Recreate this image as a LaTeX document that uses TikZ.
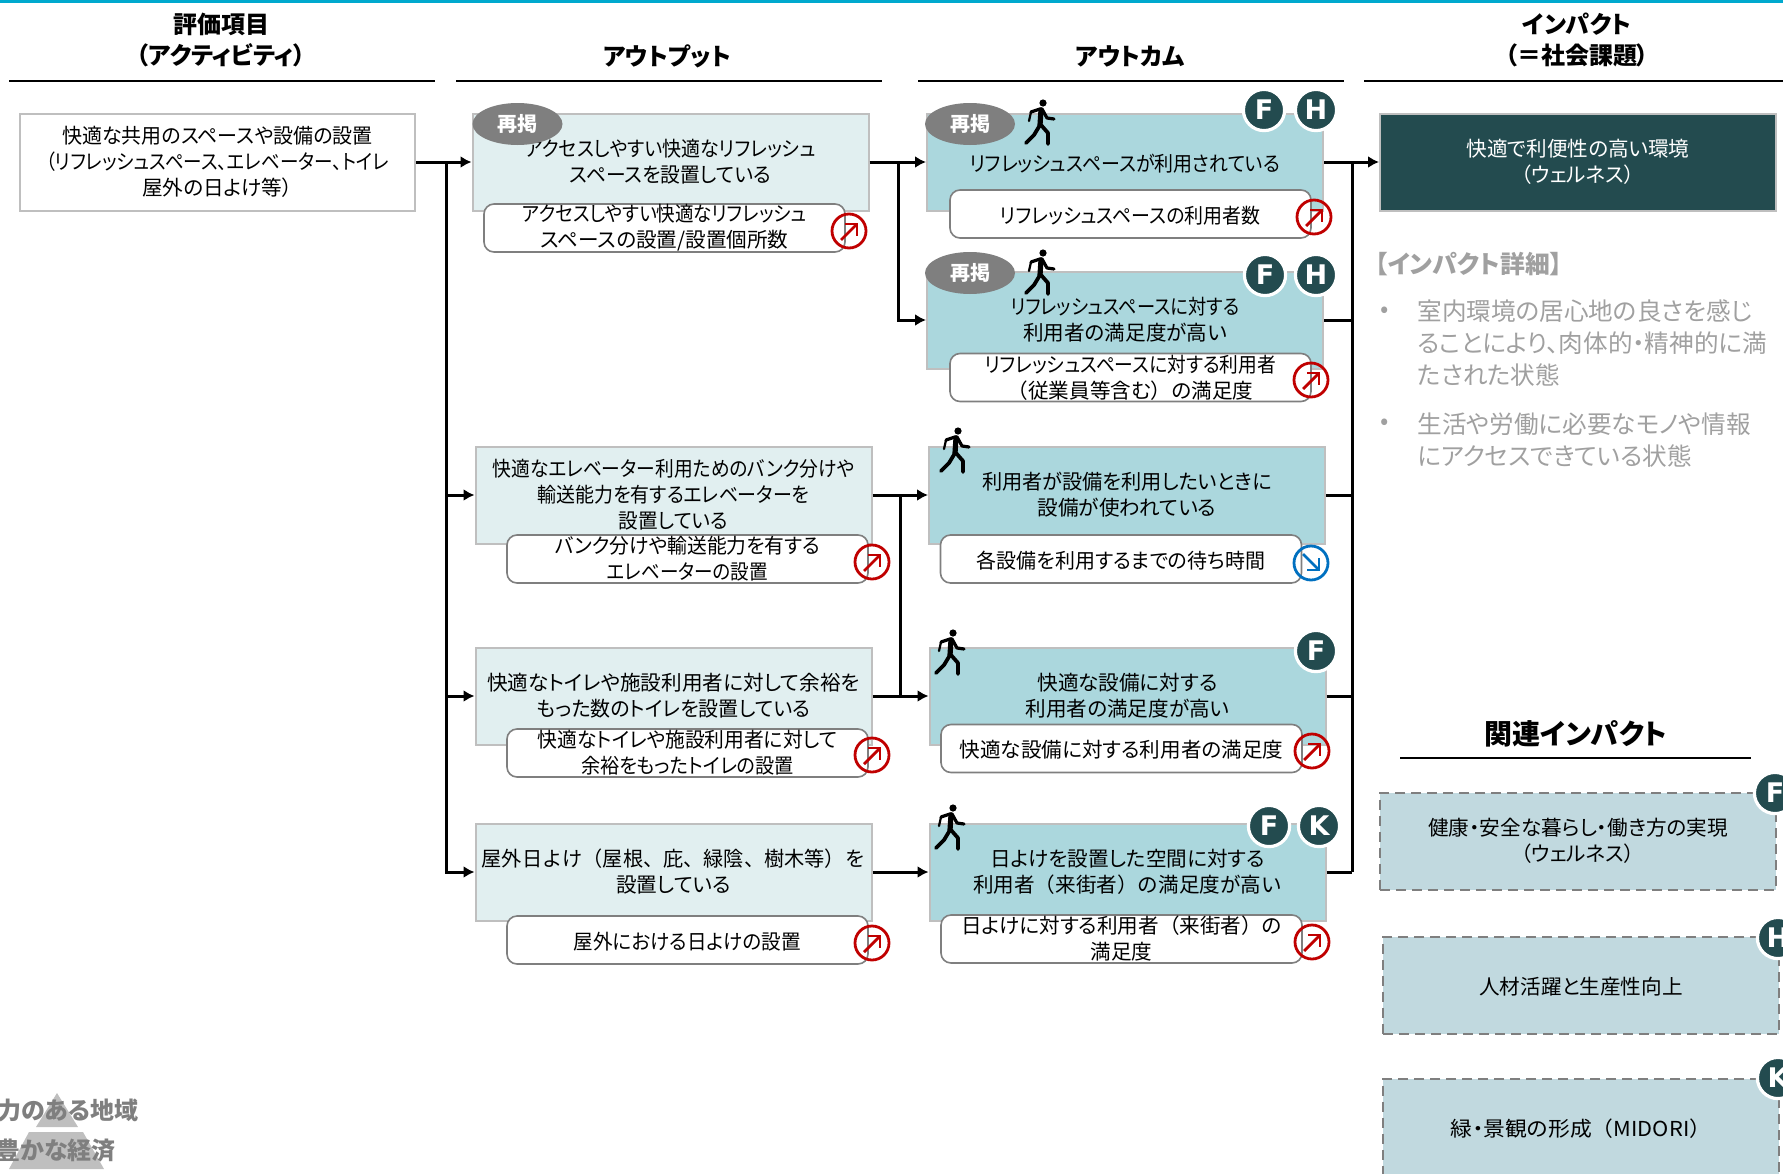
\documentclass[tikz,border=0pt]{standalone}
\usepackage{fontspec}
\setmainfont{Noto Sans CJK JP}[RawFeature=+palt]
\newfontfamily\jpwide{Noto Sans CJK JP}
\newfontfamily\badgefont{DejaVu Sans}
\usetikzlibrary{arrows.meta,shapes,positioning,calc}

\definecolor{topbar}{HTML}{00A9CE}
\definecolor{boxedge}{HTML}{BFBFBF}
\definecolor{outputfill}{HTML}{E1EFF0}
\definecolor{outcomefill}{HTML}{ABD7DD}
\definecolor{impactfill}{HTML}{234B4F}
\definecolor{relatedfill}{HTML}{C1D9DF}
\definecolor{subedge}{HTML}{7F7F7F}
\definecolor{detailgray}{HTML}{A0A0A0}
\definecolor{trendred}{HTML}{C00000}
\definecolor{trendblue}{HTML}{0070C0}

% narrower lines and wide brackets
\newcommand{\nx}[2]{\scalebox{#1}[1]{#2}}
\newcommand{\lp}{{\jpwide （}}
\newcommand{\rp}{{\jpwide ）}}

\tikzset{
	head/.style={font=\fontsize{12}{15.5}\selectfont\bfseries, align=center},
	headline/.style={line width=1pt},
	txt/.style={font=\fontsize{10.3}{13}\selectfont, align=center, inner sep=0},
	single/.style={execute at begin node={\rule{0pt}{10pt}}},
	mainbox/.style={txt, draw=boxedge, line width=1pt, minimum width=198pt, minimum height=48.5pt},
	activitybox/.style={mainbox, fill=white, minimum width=197.5pt},
	outputbox/.style={mainbox, fill=outputfill},
	outcomebox/.style={mainbox, fill=outcomefill},
	impactbox/.style={mainbox, fill=impactfill, text=white},
	subbox/.style={txt, draw=subedge, fill=white, line width=0.8pt, rounded corners=5pt, minimum width=180.5pt, minimum height=24pt},
	relatedbox/.style={mainbox, fill=relatedfill, draw=subedge, dashed, dash pattern=on 5pt off 3pt},
	again/.style={ellipse, fill=subedge, text=white, inner sep=0, minimum width=45pt, minimum height=21pt, font=\fontsize{10}{12}\selectfont\bfseries},
	badge/.style={circle, fill=impactfill, draw=white, line width=1.6pt, text=white, inner sep=0, minimum size=20.6pt, font=\fontsize{13.5}{14}\badgefont\bfseries},
	conn/.style={line width=1.5pt},
	arr/.style={conn, -{Latex[length=5.5pt,width=6pt]}},
	detail/.style={font=\fontsize{12.3}{16}\selectfont, text=detailgray, align=left, inner sep=0},
	trendup/.pic={
		\draw[trendred, line width=1.4pt] (0,0) circle (17);
		\draw[trendred, line width=1.4pt] (-8,9) -- (7,-6);
		\draw[trendred, line width=1.4pt] (-4,-7) -- (8,-7) -- (8,5);
	},
	trenddown/.pic={
		\draw[trendblue, line width=1.4pt] (0,0) circle (17);
		\draw[trendblue, line width=1.4pt] (-8,-9) -- (7,6);
		\draw[trendblue, line width=1.4pt] (-4,7) -- (8,7) -- (8,-5);
	},
	walker/.pic={
		\fill (3,-19) circle (3.6);
		\draw[line width=1.6pt, line cap=round, line join=round] (-9,-10) -- (0,-13) -- (2,-13) -- (7,-4) -- (14,-3);
		\draw[line width=2.6pt, line cap=round] (1,-12) -- (0,3);
		\draw[line width=1.1pt, line cap=round, line join=round] (-9,-10) -- (-11,-1);
		\draw[line width=1.9pt, line cap=round, line join=round] (0,3) -- (-6,13) -- (-14,21);
		\draw[line width=1.9pt, line cap=round, line join=round] (1,3) -- (8,11) -- (8,22);
	},
}

\begin{document}
\begin{tikzpicture}[x=0.5pt, y=-0.5pt]
	\path[use as bounding box, clip] (0,0) rectangle (1783,1173);
	\fill[topbar] (0,0) rectangle (1783,3);

	% headers
	\node[head] (hA) at (221,40) {評価項目\\（アクティビティ）};
	\node[head] (hO) at (667,56) {アウトプット};
	\node[head] (hC) at (1130,56) {アウトカム};
	\node[head] (hI) at (1577,40) {インパクト\\（＝社会課題）};
	\coordinate (l1a) at (9,81);
	\coordinate (l1b) at (435,81);
	\coordinate (l2a) at (456,81);
	\coordinate (l2b) at (882,81);
	\coordinate (l3a) at (918,81);
	\coordinate (l3b) at (1344,81);
	\coordinate (l4a) at (1364,81);
	\coordinate (l4b) at (1783,81);
	\draw[headline] (l1a) -- (l1b);
	\draw[headline] (l2a) -- (l2b);
	\draw[headline] (l3a) -- (l3b);
	\draw[headline] (l4a) -- (l4b);

	% activity
	\node[activitybox] (A) at (217.5,162) {\nx{0.97}{快適な共用のスペースや設備の設置}\\\nx{0.9}{（リフレッシュスペース、エレベーター、トイレ}\\屋外の日よけ等）};

	% outputs
	\node[outputbox] (O1) at (670.5,162) {\nx{0.92}{アクセスしやすい快適なリフレッシュ}\\\nx{0.96}{スペースを設置している}};
	\node[subbox] (O1s) at (664.5,228) {\nx{0.9}{アクセスしやすい快適なリフレッシュ}\\スペースの設置/設置個所数};
	\node[outputbox] (O2) at (673.5,495) {\nx{0.91}{快適なエレベーター利用ためのバンク分けや}\\\nx{0.92}{輸送能力を有するエレベーターを}\\\nx{0.95}{設置している}};
	\node[subbox] (O2s) at (687.5,559) {\nx{0.96}{バンク分けや輸送能力を有する}\\\nx{0.9}{エレベーターの設置}};
	\node[outputbox] (O3) at (673.5,696) {快適なトイレや施設利用者に対して余裕を\\\nx{0.97}{もった数のトイレを設置している}};
	\node[subbox] (O3s) at (687.5,753) {\nx{0.96}{快適なトイレや施設利用者に対して}\\\nx{0.93}{余裕をもったトイレの設置}};
	\node[outputbox] (O4) at (673.5,872) {\nx{0.98}{\jpwide 屋外日よけ（屋根、庇、緑陰、樹木等）を}\\設置している};
	\node[subbox, single] (O4s) at (687.5,940) {\nx{0.95}{屋外における日よけの設置}};

	% outcomes
	\node[outcomebox, single] (C1) at (1125,162) {\nx{0.92}{リフレッシュスペースが利用されている}};
	\node[subbox, single] (C1s) at (1130.5,214) {\nx{0.92}{リフレッシュスペースの利用者数}};
	\node[outcomebox] (C2) at (1125,320) {\nx{0.885}{リフレッシュスペースに対する}\\利用者の満足度が高い};
	\node[subbox] (C2s) at (1130.5,377.5) {\nx{0.91}{リフレッシュスペースに対する利用者}\\\lp 従業員等含む\rp の満足度};
	\node[outcomebox] (C3) at (1127,495) {\nx{0.98}{利用者が設備を利用したいときに}\\設備が使われている};
	\node[subbox, single] (C3s) at (1121,559) {\nx{0.97}{各設備を利用するまでの待ち時間}};
	\node[outcomebox] (C4) at (1127.5,696) {快適な設備に対する\\利用者の満足度が高い};
	\node[subbox, single] (C4s) at (1121.5,748.5) {快適な設備に対する利用者の満足度};
	\node[outcomebox] (C5) at (1127.5,872) {日よけを設置した空間に対する\\{\jpwide 利用者（来街者）の満足度が高い}};
	\node[subbox] (C5s) at (1121.5,939) {日よけに対する利用者\lp 来街者\rp の\\満足度};

	% impact
	\node[impactbox] (I) at (1578,162) {快適で利便性の高い環境\\（ウェルネス）};
	\node[detail, anchor=west, font=\fontsize{12.4}{16}\selectfont\bfseries] (dT) at (1375,264) {【インパクト詳細】};
	\node[detail] (b1) at (1385,312) {•};
	\node[detail, anchor=west] (d1) at (1417,343) {室内環境の居心地の良さを感じ\\ることにより、肉体的・精神的に満\\たされた状態};
	\node[detail] (b2) at (1385,424) {•};
	\node[detail, anchor=west] (d2) at (1417,440) {生活や労働に必要なモノや情報\\にアクセスできている状態};

	% related impact
	\node[head, font=\fontsize{14}{16}\selectfont\bfseries] (hR) at (1576,734) {関連インパクト};
	\coordinate (l5a) at (1400,758);
	\coordinate (l5b) at (1751,758);
	\draw[headline] (l5a) -- (l5b);
	\node[relatedbox] (R1) at (1578,841) {健康・安全な暮らし・働き方の実現\\（ウェルネス）};
	\node[relatedbox, single] (R2) at (1581,985) {人材活躍と生産性向上};
	\node[relatedbox, single] (R3) at (1581,1127) {\nx{1.06}{緑・景観の形成\lp MIDORI\rp}};
	\node[badge] (bR1) at (1775,793) {F};
	\node[badge] (bR2) at (1778,938) {H};
	\node[badge] (bR3) at (1778,1078) {K};

	% tags on the boxes
	\node[again] (t1) at (517.5,124) {再掲};
	\node[again] (t2) at (970,124) {再掲};
	\node[again] (t3) at (970,273) {再掲};
	\pic at (1040,122) {walker};
	\pic at (1040,272) {walker};
	\pic at (955,450) {walker};
	\pic at (950,652) {walker};
	\pic at (950,827) {walker};
	\node[badge] (f1) at (1264,110) {F};
	\node[badge] (h1) at (1316,110) {H};
	\node[badge] (f2) at (1265,275) {F};
	\node[badge] (h2) at (1316,275) {H};
	\node[badge] (f3) at (1316,651) {F};
	\node[badge] (f4) at (1269,826) {F};
	\node[badge] (k4) at (1319,826) {K};
	\pic at (849,231) {trendup};
	\pic at (872,562) {trendup};
	\pic at (872,755) {trendup};
	\pic at (872,943) {trendup};
	\pic at (1314,217) {trendup};
	\pic at (1311,380) {trendup};
	\pic at (1311,563) {trenddown};
	\pic at (1312,751) {trendup};
	\pic at (1312,942) {trendup};

	% connectors
	\coordinate (jA) at (446,162);
	\coordinate (jB) at (898,162);
	\coordinate (jC) at (900,495);
	\coordinate (jD) at (1352,162);
	\coordinate (jE) at (1352,872);
	\draw[arr] (A) -- (O1);
	\draw[arr] (jA) |- (O2);
	\draw[arr] (jA) |- (O3);
	\draw[arr] (jA) |- (O4);
	\draw[arr] (O1) -- (C1);
	\draw[arr] (jB) |- (C2);
	\draw[arr] (O2) -- (C3);
	\draw[arr] (O3) -- (C4);
	\draw[conn] (jC) -- (jC |- C4);
	\draw[arr] (O4) -- (C5);
	\draw[arr] (C1) -- (I);
	\draw[conn] (jD) -- (jE);
	\draw[conn] (C2) -- (C2 -| jD);
	\draw[conn] (C3) -- (C3 -| jD);
	\draw[conn] (C4) -- (C4 -| jD);
	\draw[conn] (C5) -- (jE);

	% corner of the page
	\fill[boxedge] (57,1093) -- (78,1127) -- (36,1127) -- cycle;
	\fill[boxedge] (29,1132) -- (83,1132) -- (104,1169) -- (9,1169) -- cycle;
	\node[anchor=east, inner sep=0, text=subedge, font=\fontsize{12}{12}\selectfont\bfseries] (p1) at (139,1110) {力のある地域};
	\node[anchor=east, inner sep=0, text=subedge, font=\fontsize{12}{12}\selectfont\bfseries] (p2) at (116,1150) {豊かな経済};
\end{tikzpicture}
\end{document}
